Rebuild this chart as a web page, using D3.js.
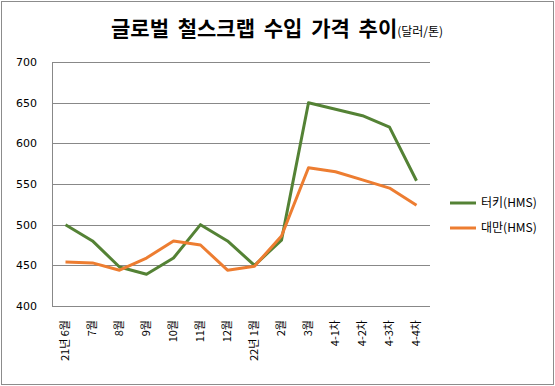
<!DOCTYPE html>
<html>
<head>
<meta charset="utf-8">
<script src="https://cdn.jsdelivr.net/npm/d3@7"></script>
<style>
    body { margin: 0; background: #fff; }
    svg { display: block; }
</style>
</head>
<body>
<svg id="chart"></svg>
<script>
(function()
{
    // categories (x axis) and the two price series, $/ton
    var months = ["21년 6월", "7월", "8월", "9월", "10월", "11월", "12월",
                  "22년 1월", "2월", "3월", "4-1차", "4-2차", "4-3차", "4-4차"];
    var turkey = [500, 480, 448, 439, 459, 500, 480, 450, 481, 650, 642, 634, 620, 554];
    var taiwan = [454, 453, 444, 459, 480, 475, 444, 449, 486, 570, 565, 555, 545, 524];
    var yTicks = [400, 450, 500, 550, 600, 650, 700];

    const W = 555;
    const H = 386;
    var plot = {left: 52, right: 430, top: 62, bottom: 306};

    var svg = d3.select("#chart")
        .attr("width", W)
        .attr("height", H);

    // outer chart border
    svg.append("rect")
        .attr("x", 1.5).attr("y", 1.5)
        .attr("width", W - 3).attr("height", H - 3)
        .attr("fill", "#fff")
        .attr("stroke", "#8c8c8c");

    var x = d3.scaleBand()
        .domain(months)
        .range([plot.left, plot.right]);
    var y = d3.scaleLinear()
        .domain([400, 700])
        .range([plot.bottom, plot.top]);

    // gridlines
    svg.append("g").selectAll("line")
        .data(yTicks)
        .enter()
        .append("line")
        .attr("x1", plot.left).attr("x2", plot.right)
        .attr("y1", function(d) { return Math.round(y(d)) + 0.5; })
        .attr("y2", function(d) { return Math.round(y(d)) + 0.5; })
        .attr("stroke", "#888");

    // y axis line
    svg.append("line")
        .attr("x1", plot.left + 0.5).attr("x2", plot.left + 0.5)
        .attr("y1", plot.top).attr("y2", plot.bottom)
        .attr("stroke", "#888");

    // y labels
    var yAxis = svg.append("g")
        .attr("transform", "translate(" + (plot.left - 15) + ",0)")
        .call(d3.axisLeft(y).tickValues(yTicks).tickSize(0).tickPadding(0));
    yAxis.select(".domain").remove();
    yAxis.selectAll("text")
        .attr("font-family", "DejaVu Sans, sans-serif")
        .attr("font-size", 11)
        .attr("fill", "#000");

    // x labels, rotated
    var xAxis = svg.append("g")
        .attr("transform", "translate(0," + (plot.bottom + 14) + ")")
        .call(d3.axisBottom(x).tickSize(0).tickPadding(0));
    xAxis.select(".domain").remove();
    xAxis.selectAll("text")
        .attr("font-family", "'Noto Sans CJK KR', sans-serif")
        .attr("font-size", 11)
        .attr("fill", "#000")
        .attr("transform", "rotate(-90)")
        .attr("text-anchor", "end")
        .attr("dy", "0.35em")
        .attr("x", 0)
        .attr("y", 0);

    var line = d3.line()
        .x(function(d, i) { return x(months[i]) + x.bandwidth() / 2; })
        .y(function(d) { return y(d); });

    var series = [
        {name: "터키", values: turkey, color: "#548235"},
        {name: "대만", values: taiwan, color: "#ED7D31"}
    ];

    svg.selectAll("path.series")
        .data(series)
        .enter()
        .append("path")
        .attr("class", "series")
        .attr("d", function(s) { return line(s.values); })
        .attr("fill", "none")
        .attr("stroke", function(s) { return s.color; })
        .attr("stroke-width", 3)
        .attr("stroke-linejoin", "round");

    // legend
    var legend = svg.selectAll("g.legend")
        .data(series)
        .enter()
        .append("g")
        .attr("class", "legend")
        .attr("transform", function(d, i) { return "translate(450," + (203 + i * 25) + ")"; });
    legend.append("line")
        .attr("x1", 0).attr("x2", 26)
        .attr("stroke", function(d) { return d.color; })
        .attr("stroke-width", 3);
    legend.append("text")
        .attr("x", 31)
        .attr("dy", "0.35em")
        .attr("font-family", "'Noto Sans CJK KR', sans-serif")
        .attr("font-size", 12)
        .text(function(d) { return d.name + "(HMS)"; });

    // title
    var title = svg.append("text")
        .attr("x", 111)
        .attr("y", 36)
        .attr("font-family", "'Noto Sans CJK KR', sans-serif");
    title.append("tspan")
        .attr("font-size", 21)
        .attr("font-weight", "bold")
        .attr("word-spacing", 4)
        .text("글로벌 철스크랩 수입 가격 추이");
    title.append("tspan")
        .attr("font-size", 12)
        .text("(달러/톤)");
})();
</script>
</body>
</html>
